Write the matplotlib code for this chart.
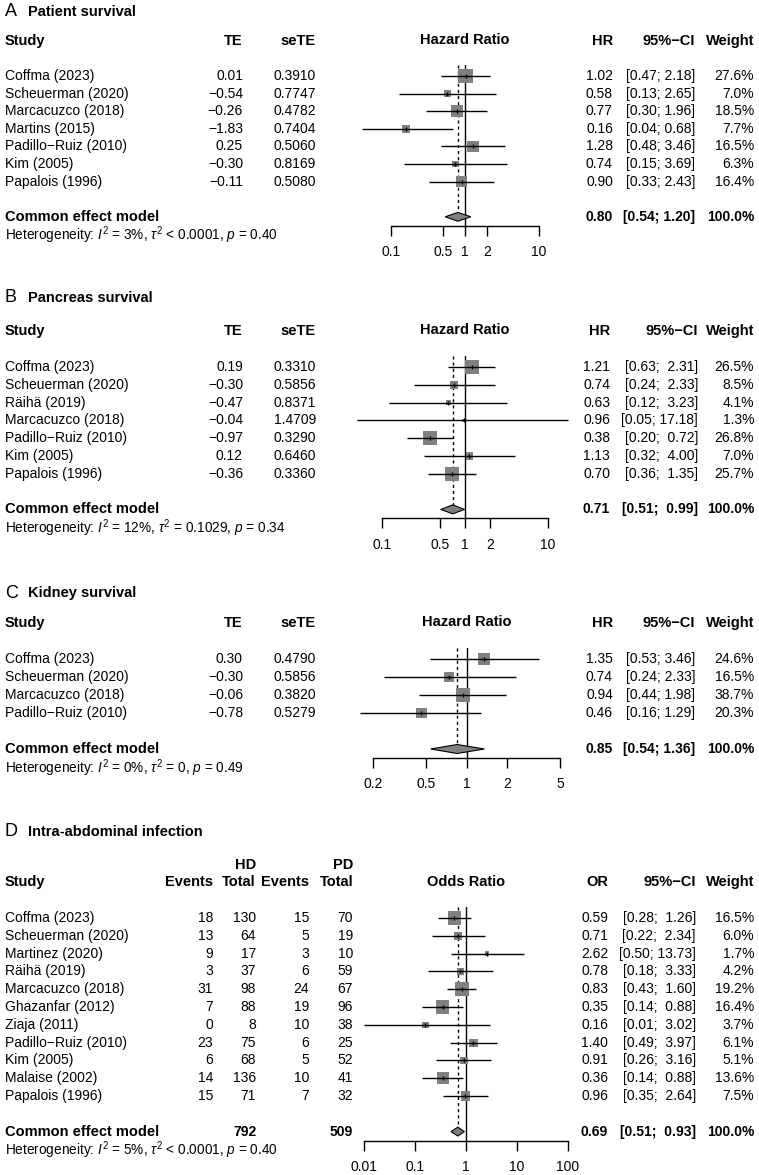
import matplotlib
matplotlib.use('Agg')
import matplotlib.pyplot as plt
from matplotlib.patches import Polygon
from matplotlib.ticker import NullLocator
import numpy as np

plt.rcParams['font.family'] = ['Liberation Sans', 'DejaVu Sans']
plt.rcParams['mathtext.fontset'] = 'custom'
plt.rcParams['mathtext.rm'] = 'Liberation Sans'
plt.rcParams['mathtext.it'] = 'Liberation Sans:italic'
plt.rcParams['mathtext.bf'] = 'Liberation Sans:bold'

# ---- data ----
# A: patient survival
studies_A = ["Coffma (2023)", "Scheuerman (2020)", "Marcacuzco (2018)", "Martins (2015)",
             "Padillo−Ruiz (2010)", "Kim (2005)", "Papalois (1996)"]
te_A = [0.01, -0.54, -0.26, -1.83, 0.25, -0.30, -0.11]
sete_A = ["0.3910", "0.7747", "0.4782", "0.7404", "0.5060", "0.8169", "0.5080"]
hr_A = [1.02, 0.58, 0.77, 0.16, 1.28, 0.74, 0.90]
lo_A = [0.47, 0.13, 0.30, 0.04, 0.48, 0.15, 0.33]
hi_A = [2.18, 2.65, 1.96, 0.68, 3.46, 3.69, 2.43]
w_A = [27.6, 7.0, 18.5, 7.7, 16.5, 6.3, 16.4]
pooled_A = (0.80, 0.54, 1.20)
het_A = r"Heterogeneity: $I^2$ = 3%, $\tau^2$ < 0.0001, $p$ = 0.40"

# B: pancreas survival
studies_B = ["Coffma (2023)", "Scheuerman (2020)", "Räihä (2019)", "Marcacuzco (2018)",
             "Padillo−Ruiz (2010)", "Kim (2005)", "Papalois (1996)"]
te_B = [0.19, -0.30, -0.47, -0.04, -0.97, 0.12, -0.36]
sete_B = ["0.3310", "0.5856", "0.8371", "1.4709", "0.3290", "0.6460", "0.3360"]
hr_B = [1.21, 0.74, 0.63, 0.96, 0.38, 1.13, 0.70]
lo_B = [0.63, 0.24, 0.12, 0.05, 0.20, 0.32, 0.36]
hi_B = [2.31, 2.33, 3.23, 17.18, 0.72, 4.00, 1.35]
w_B = [26.5, 8.5, 4.1, 1.3, 26.8, 7.0, 25.7]
pooled_B = (0.71, 0.51, 0.99)
het_B = r"Heterogeneity: $I^2$ = 12%, $\tau^2$ = 0.1029, $p$ = 0.34"

# C: kidney survival
studies_C = ["Coffma (2023)", "Scheuerman (2020)", "Marcacuzco (2018)", "Padillo−Ruiz (2010)"]
te_C = [0.30, -0.30, -0.06, -0.78]
sete_C = ["0.4790", "0.5856", "0.3820", "0.5279"]
hr_C = [1.35, 0.74, 0.94, 0.46]
lo_C = [0.53, 0.24, 0.44, 0.16]
hi_C = [3.46, 2.33, 1.98, 1.29]
w_C = [24.6, 16.5, 38.7, 20.3]
pooled_C = (0.85, 0.54, 1.36)
het_C = r"Heterogeneity: $I^2$ = 0%, $\tau^2$ = 0, $p$ = 0.49"

# D: intra-abdominal infection
studies_D = ["Coffma (2023)", "Scheuerman (2020)", "Martinez (2020)", "Räihä (2019)",
             "Marcacuzco (2018)", "Ghazanfar (2012)", "Ziaja (2011)", "Padillo−Ruiz (2010)",
             "Kim (2005)", "Malaise (2002)", "Papalois (1996)"]
ev_hd = [18, 13, 9, 3, 31, 7, 0, 23, 6, 14, 15]
tot_hd = [130, 64, 17, 37, 98, 88, 8, 75, 68, 136, 71]
ev_pd = [15, 5, 3, 6, 24, 19, 10, 6, 5, 10, 7]
tot_pd = [70, 19, 10, 59, 67, 96, 38, 25, 52, 41, 32]
or_D = [0.59, 0.71, 2.62, 0.78, 0.83, 0.35, 0.16, 1.40, 0.91, 0.36, 0.96]
lo_D = [0.28, 0.22, 0.50, 0.18, 0.43, 0.14, 0.01, 0.49, 0.26, 0.14, 0.35]
hi_D = [1.26, 2.34, 13.73, 3.33, 1.60, 0.88, 3.02, 3.97, 3.16, 0.88, 2.64]
w_D = [16.5, 6.0, 1.7, 4.2, 19.2, 16.4, 3.7, 6.1, 5.1, 13.6, 7.5]
pooled_D = (0.69, 0.51, 0.93)
het_D = r"Heterogeneity: $I^2$ = 5%, $\tau^2$ < 0.0001, $p$ = 0.40"

W, H = 759, 1175
fig = plt.figure(figsize=(W / 100, H / 100), dpi=100)
bg = fig.add_axes([0, 0, 1, 1])
bg.set_xlim(0, W)
bg.set_ylim(H, 0)
bg.axis('off')

FS = 10
HET_FS = 9.8


def txt(x, y, s, ha='left', bold=False, size=FS):
    bg.text(x, y, s, ha=ha, va='center', fontsize=size,
            fontweight='bold' if bold else 'normal', color='black')


def num(v):
    return f"{v:.2f}".replace('-', '−')


def ci(lo, hi, wl, wh):
    return "[" + f"{lo:.2f}".rjust(wl) + "; " + f"{hi:.2f}".rjust(wh) + "]"


def forest(y0, pitch, n, xl, xr, xlim, ticks, est, lo, hi, w, pooled):
    top = y0 - 0.6 * pitch
    bot = y0 + (n + 1.5) * pitch
    ax = fig.add_axes([xl / W, 1 - bot / H, (xr - xl) / W, (bot - top) / H])
    ax.patch.set_alpha(0)
    ax.set_xscale('log')
    ax.set_xlim(xlim)
    ax.set_ylim(n + 1.5, -0.6)
    for s in ['top', 'right', 'left']:
        ax.spines[s].set_visible(False)
    ax.spines['bottom'].set_linewidth(1)
    ax.set_yticks([])
    ax.set_xticks(ticks)
    ax.set_xticklabels([f"{t:g}" for t in ticks])
    ax.xaxis.set_minor_locator(NullLocator())
    ax.tick_params(axis='x', length=7, width=1, pad=7, labelsize=FS)

    rows = np.arange(n)
    pe, plo, phi = pooled
    ax.plot([1, 1], [-0.6, n + 1.5], color='black', lw=1, zorder=1)
    ax.plot([pe, pe], [-0.6, n + 1 - 0.25], color='black', lw=1,
            dashes=(2.2, 2.2), zorder=1)
    wa = np.array(w)
    size_px = 14.5 * np.sqrt(wa / wa.max())
    ax.scatter(est, rows, marker='s', s=(size_px * 0.72) ** 2, color='#808080',
               linewidths=0, zorder=2, clip_on=False)
    ax.hlines(rows, lo, hi, color='black', lw=1, zorder=3, clip_on=False)
    ax.scatter(est, rows, marker='|', s=(5 * 0.72) ** 2, color='black',
               linewidths=1, zorder=4, clip_on=False)
    dia = Polygon([(plo, n + 1), (pe, n + 1 - 0.25), (phi, n + 1), (pe, n + 1 + 0.25)],
                  closed=True, facecolor='#808080', edgecolor='black', lw=0.8, zorder=3)
    ax.add_patch(dia)
    return ax


def title(y, letter, label):
    txt(5, y, letter, size=13)
    txt(28, y, label, bold=True, size=10.5)


def hr_panel(y0, pitch, ty, letter, label, studies, te, sete, est, lo, hi, w, pooled, het,
             xl, xr, xlim, ticks, x_hr, x_ci):
    n = len(studies)
    title(ty, letter, label)
    yh = y0 - 2 * pitch
    txt(5, yh, "Study", bold=True, size=10.5)
    txt(243, yh, "TE", ha='right', bold=True, size=10.5)
    txt(316, yh, "seTE", ha='right', bold=True, size=10.5)
    txt((xl + xr) / 2, yh - 1, "Hazard Ratio", ha='center', bold=True, size=10.5)
    txt(x_hr, yh, "HR", ha='right', bold=True, size=10.5)
    txt(x_ci, yh, "95%−CI", ha='right', bold=True, size=10.5)
    txt(754, yh, "Weight", ha='right', bold=True, size=10.5)
    wh = max(len(f"{v:.2f}") for v in hi)
    for i in range(n):
        y = y0 + i * pitch
        txt(5, y, studies[i])
        txt(243, y, num(te[i]), ha='right')
        txt(316, y, sete[i], ha='right')
        txt(x_hr, y, num(est[i]), ha='right')
        txt(x_ci, y, ci(lo[i], hi[i], 4, wh), ha='right')
        txt(754, y, f"{w[i]:.1f}%", ha='right')
    yp = y0 + (n + 1) * pitch
    txt(5, yp, "Common effect model", bold=True, size=10.5)
    txt(x_hr, yp, num(pooled[0]), ha='right', bold=True)
    txt(x_ci, yp, ci(pooled[1], pooled[2], 4, wh), ha='right', bold=True)
    txt(754, yp, "100.0%", ha='right', bold=True)
    txt(5, y0 + (n + 2.05) * pitch, het, size=HET_FS)
    forest(y0, pitch, n, xl, xr, xlim, ticks, est, lo, hi, w, pooled)


hr_panel(76, 17.6, 12, "A", "Patient survival", studies_A, te_A, sete_A, hr_A, lo_A, hi_A,
         w_A, pooled_A, het_A, 391, 539, (0.1, 10), [0.1, 0.5, 1, 2, 10], 613, 695)
hr_panel(367, 17.8, 298, "B", "Pancreas survival", studies_B, te_B, sete_B, hr_B, lo_B, hi_B,
         w_B, pooled_B, het_B, 382, 548, (0.1, 10), [0.1, 0.5, 1, 2, 10], 610, 698)
hr_panel(659, 18.0, 593, "C", "Kidney survival", studies_C, te_C, sete_C, hr_C, lo_C, hi_C,
         w_C, pooled_C, het_C, 373, 560, (0.2, 5), [0.2, 0.5, 1, 2, 5], 613, 695)

# panel D
y0, pitch = 918, 17.8
n = len(studies_D)
title(832, "D", "Intra-abdominal infection")
yh = y0 - 2 * pitch
txt(256, yh - pitch, "HD", ha='right', bold=True, size=10.5)
txt(353, yh - pitch, "PD", ha='right', bold=True, size=10.5)
txt(5, yh, "Study", bold=True, size=10.5)
txt(213, yh, "Events", ha='right', bold=True, size=10.5)
txt(256, yh, "Total", ha='right', bold=True, size=10.5)
txt(309, yh, "Events", ha='right', bold=True, size=10.5)
txt(353, yh, "Total", ha='right', bold=True, size=10.5)
txt(466, yh, "Odds Ratio", ha='center', bold=True, size=10.5)
txt(608, yh, "OR", ha='right', bold=True, size=10.5)
txt(696, yh, "95%−CI", ha='right', bold=True, size=10.5)
txt(754, yh, "Weight", ha='right', bold=True, size=10.5)
for i in range(n):
    y = y0 + i * pitch
    txt(5, y, studies_D[i])
    txt(213, y, str(ev_hd[i]), ha='right')
    txt(256, y, str(tot_hd[i]), ha='right')
    txt(309, y, str(ev_pd[i]), ha='right')
    txt(353, y, str(tot_pd[i]), ha='right')
    txt(608, y, num(or_D[i]), ha='right')
    txt(696, y, ci(lo_D[i], hi_D[i], 4, 5), ha='right')
    txt(754, y, f"{w_D[i]:.1f}%", ha='right')
yp = y0 + (n + 1) * pitch
txt(5, yp, "Common effect model", bold=True, size=10.5)
txt(256, yp, str(sum(tot_hd)), ha='right', bold=True)
txt(353, yp, str(sum(tot_pd)), ha='right', bold=True)
txt(608, yp, num(pooled_D[0]), ha='right', bold=True)
txt(696, yp, ci(pooled_D[1], pooled_D[2], 4, 5), ha='right', bold=True)
txt(754, yp, "100.0%", ha='right', bold=True)
txt(5, y0 + (n + 2.05) * pitch, het_D, size=HET_FS)
forest(y0, pitch, n, 364, 568, (0.01, 100), [0.01, 0.1, 1, 10, 100],
       or_D, lo_D, hi_D, w_D, pooled_D)

fig.savefig('out.png', dpi=100)
